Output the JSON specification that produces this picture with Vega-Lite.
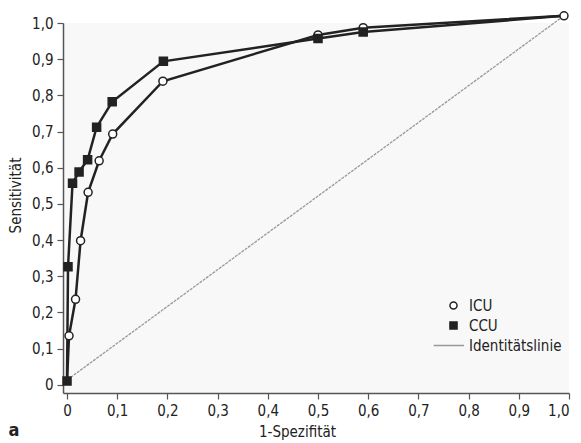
{
  "$schema": "https://vega.github.io/schema/vega-lite/v6.json",
  "width": 506,
  "height": 370,
  "autosize": {"type": "none"},
  "padding": {"left": 63, "top": 23, "right": 12, "bottom": 50},
  "background": "white",
  "config": {
    "font": "DejaVu Sans Condensed, Liberation Sans, sans-serif",
    "view": {"fill": "#f8f8f8", "stroke": null},
    "axis": {"grid": false, "domainColor": "#555", "domainWidth": 1.5, "tickColor": "#555", "tickWidth": 1.2, "tickSize": 6, "labelFont": "DejaVu Sans Condensed, Liberation Sans, sans-serif", "labelFontSize": 15, "labelColor": "#222", "titleFont": "DejaVu Sans Condensed, Liberation Sans, sans-serif", "titleFontSize": 15, "titleFontWeight": "normal", "titleColor": "#222"}
  },
  "title": {"text": "a", "orient": "bottom", "anchor": "start", "frame": "bounds", "fontSize": 18, "fontWeight": "bold", "font": "DejaVu Sans Condensed, Liberation Sans, sans-serif", "color": "#222", "offset": -17},
  "data": {
    "values": [
      {"series": "Identitätslinie", "x": 0.007, "y": 0.02},
      {"series": "Identitätslinie", "x": 0.99, "y": 1.02},
      {"series": "ICU", "x": 0.0, "y": 0.01},
      {"series": "ICU", "x": 0.004, "y": 0.135},
      {"series": "ICU", "x": 0.017, "y": 0.236},
      {"series": "ICU", "x": 0.027, "y": 0.398},
      {"series": "ICU", "x": 0.042, "y": 0.532},
      {"series": "ICU", "x": 0.064, "y": 0.619},
      {"series": "ICU", "x": 0.091, "y": 0.693},
      {"series": "ICU", "x": 0.191, "y": 0.839},
      {"series": "ICU", "x": 0.5, "y": 0.967},
      {"series": "ICU", "x": 0.59, "y": 0.987},
      {"series": "CCU", "x": 0.0, "y": 0.01},
      {"series": "CCU", "x": 0.002, "y": 0.326},
      {"series": "CCU", "x": 0.011, "y": 0.557},
      {"series": "CCU", "x": 0.024, "y": 0.588},
      {"series": "CCU", "x": 0.041, "y": 0.622},
      {"series": "CCU", "x": 0.059, "y": 0.712},
      {"series": "CCU", "x": 0.09, "y": 0.782},
      {"series": "CCU", "x": 0.192, "y": 0.894},
      {"series": "CCU", "x": 0.5, "y": 0.957},
      {"series": "CCU", "x": 0.59, "y": 0.975},
      {"series": "CCU", "x": 0.99, "y": 1.02},
      {"series": "ICU", "x": 0.99, "y": 1.02}
    ]
  },
  "encoding": {
    "x": {
      "field": "x", "type": "quantitative",
      "scale": {"domain": [-0.008, 1.0], "nice": false, "zero": false},
      "axis": {"values": [0, 0.1, 0.2, 0.3, 0.4, 0.5, 0.6, 0.7, 0.8, 0.9, 1.0], "labelExpr": "datum.value == 0 ? '0' : replace(format(datum.value, '.1f'), '.', ',')", "title": "1-Spezifität", "titlePadding": 6, "titleX": 234, "labelPadding": 4}
    },
    "y": {
      "field": "y", "type": "quantitative",
      "scale": {"domain": [-0.023, 1.0], "nice": false, "zero": false},
      "axis": {"values": [0, 0.1, 0.2, 0.3, 0.4, 0.5, 0.6, 0.7, 0.8, 0.9, 1.0], "labelExpr": "datum.value == 0 ? '0' : replace(format(datum.value, '.1f'), '.', ',')", "title": "Sensitivität", "titlePadding": 8, "titleY": 172, "labelPadding": 4}
    }
  },
  "layer": [
    {
      "transform": [{"filter": "datum.series == 'Identitätslinie'"}],
      "mark": {"type": "line", "stroke": "#999", "strokeWidth": 1.3, "strokeDash": [3, 1]},
      "encoding": {}
    },
    {
      "transform": [{"filter": "datum.series != 'Identitätslinie'"}],
      "mark": {"type": "line", "stroke": "#222", "strokeWidth": 2.5},
      "encoding": {"detail": {"field": "series"}}
    },
    {
      "transform": [{"filter": "datum.series != 'Identitätslinie' && !(datum.series == 'CCU' && datum.x > 0.9) && !(datum.series == 'ICU' && datum.x == 0)"}],
      "mark": {"type": "point", "size": 64, "opacity": 1, "strokeWidth": 1.5},
      "encoding": {
        "shape": {"field": "series", "type": "nominal", "scale": {"domain": ["ICU", "CCU", "Identitätslinie"], "range": ["circle", "square", "M-5.6,0H3"]}, "legend": {"title": null, "orient": "none", "legendX": 383, "legendY": 275, "symbolSize": 50, "labelOffset": 8, "labelFontSize": 15, "labelFont": "DejaVu Sans Condensed, Liberation Sans, sans-serif", "labelColor": "#222", "rowPadding": 4, "symbolStrokeWidth": 1.5}},
        "fill": {"field": "series", "type": "nominal", "scale": {"domain": ["ICU", "CCU", "Identitätslinie"], "range": ["#ffffff", "#222222", "transparent"]}, "legend": {"title": null, "orient": "none", "legendX": 383, "legendY": 275, "symbolSize": 50, "labelOffset": 8, "labelFontSize": 15, "labelFont": "DejaVu Sans Condensed, Liberation Sans, sans-serif", "labelColor": "#222", "rowPadding": 4, "symbolStrokeWidth": 1.5}},
        "stroke": {"field": "series", "type": "nominal", "scale": {"domain": ["ICU", "CCU", "Identitätslinie"], "range": ["#222222", "#222222", "#999999"]}, "legend": {"title": null, "orient": "none", "legendX": 383, "legendY": 275, "symbolSize": 50, "labelOffset": 8, "labelFontSize": 15, "labelFont": "DejaVu Sans Condensed, Liberation Sans, sans-serif", "labelColor": "#222", "rowPadding": 4, "symbolStrokeWidth": 1.5}}
      }
    }
  ]
}
